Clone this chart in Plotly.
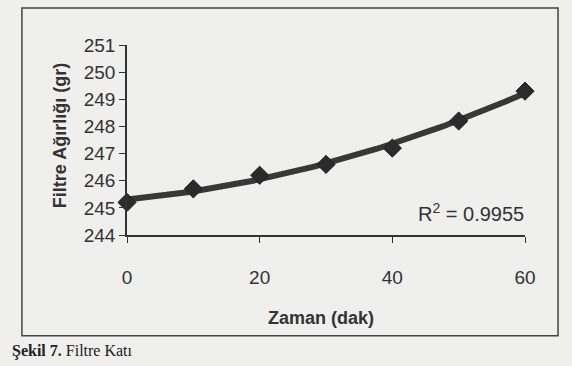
import numpy as np
import plotly.graph_objects as go

# Data
zaman = [0, 10, 20, 30, 40, 50, 60]
agirlik = [245.2, 245.7, 246.2, 246.6, 247.2, 248.2, 249.3]
x_ticks = [0, 20, 40, 60]
y_ticks = [244, 245, 246, 247, 248, 249, 250, 251]
r2_text = "R<sup>2</sup> = 0.9955"

# 2nd order polynomial trendline (as in the spreadsheet chart)
coef = np.polyfit(zaman, agirlik, 2)
xt = np.linspace(min(zaman), max(zaman), 100)
yt = np.polyval(coef, xt)

font = "Liberation Sans, Arial, sans-serif"
dark = "#2b2b2b"
bg = "#efefed"

fig = go.Figure()
fig.add_trace(go.Scatter(x=xt, y=yt, mode="lines",
                         line=dict(color="#383838", width=6),
                         hoverinfo="skip", showlegend=False, cliponaxis=False))
fig.add_trace(go.Scatter(x=zaman, y=agirlik, mode="markers",
                         marker=dict(symbol="diamond", size=14, color=dark,
                                     line=dict(color="#222", width=1)),
                         showlegend=False, cliponaxis=False))

fig.update_layout(
    width=572, height=366,
    margin=dict(l=127, r=47, t=45, b=131),
    paper_bgcolor=bg, plot_bgcolor=bg,
    font=dict(family=font, size=19, color="#333"),
    xaxis=dict(range=[0, 60], tickvals=x_ticks, showgrid=False, zeroline=False,
               showline=True, linecolor="#333", linewidth=1.5,
               ticks="outside", ticklen=6, tickcolor="#333",
               ticklabelstandoff=18, tickfont=dict(size=19, color="#333")),
    yaxis=dict(range=[244, 251], tickvals=y_ticks, showgrid=False, zeroline=False,
               showline=True, linecolor="#333", linewidth=1.5,
               ticks="outside", ticklen=6, tickcolor="#333",
               tickfont=dict(size=19, color="#333")),
    annotations=[
        dict(text="<b>Filtre Ağırlığı (gr)</b>", xref="paper", yref="paper",
             x=-0.168, y=0.521, xanchor="center", yanchor="middle",
             textangle=-90, showarrow=False,
             font=dict(size=18, color="#333")),
        dict(text="<b>Zaman (dak)</b>", xref="paper", yref="paper",
             x=0.487, y=-0.437, xanchor="center", yanchor="middle",
             showarrow=False, font=dict(size=18, color="#333")),
        dict(text=r2_text, xref="paper", yref="paper",
             x=0.864, y=0.121, xanchor="center", yanchor="middle",
             showarrow=False, font=dict(size=20, color="#333")),
        dict(text="<b>Şekil 7.</b> Filtre Katı", xref="paper", yref="paper",
             x=-0.295, y=-0.555, xanchor="left", yanchor="top", showarrow=False,
             font=dict(family="Liberation Serif, Times New Roman, serif",
                       size=16, color="#222")),
    ],
    shapes=[
        dict(type="rect", xref="paper", yref="paper",
             x0=-0.264, x1=1.083, y0=-0.53, y1=1.195,
             line=dict(color="#444", width=1.5), fillcolor="rgba(0,0,0,0)"),
    ],
)

fig.write_html("out.html",
               config={"displayModeBar": False},
               post_script="document.body.style.margin='0';"
                           "document.body.style.background='" + bg + "';")
